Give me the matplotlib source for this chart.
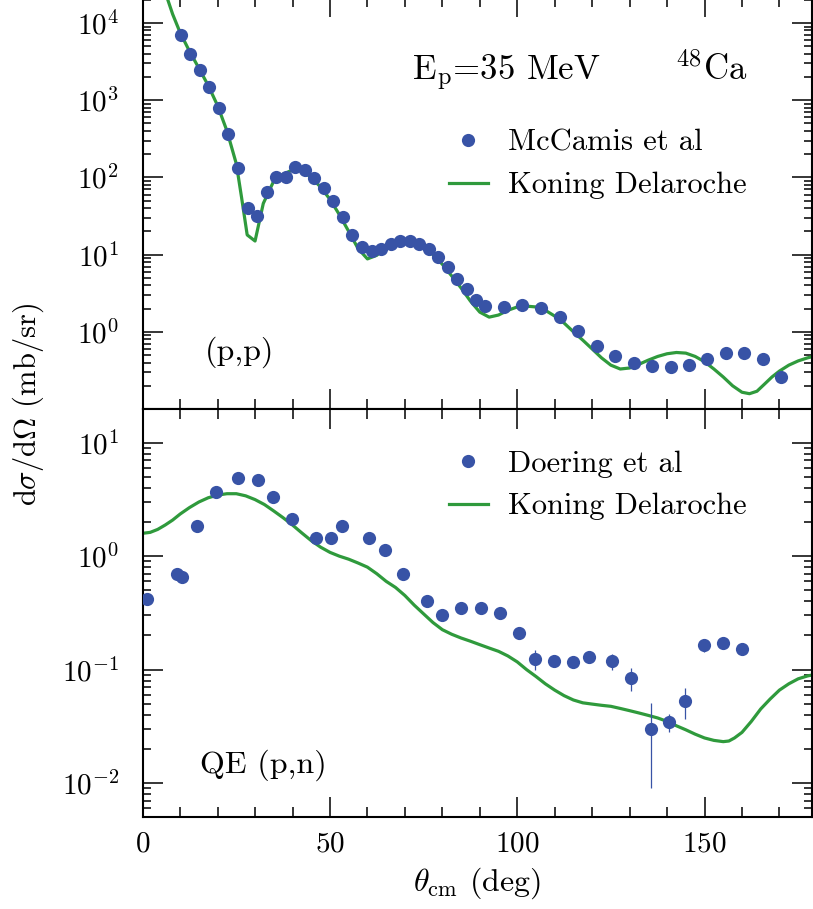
import numpy as np
import matplotlib
matplotlib.use("Agg")
import matplotlib.pyplot as plt
from matplotlib.ticker import FixedLocator, LogLocator, MultipleLocator, FuncFormatter, NullFormatter

plt.rcParams['font.family'] = 'serif'
plt.rcParams['font.serif'] = ['cmr10', 'DejaVu Serif']
plt.rcParams['mathtext.fontset'] = 'cm'
plt.rcParams['axes.formatter.use_mathtext'] = True

BLUE = '#3853a6'
GREEN = '#2f9a3c'

# elastic (p,p), McCamis et al
pp_angle = [10.2, 12.7, 15.3, 17.8, 20.4, 22.9, 25.4, 28.0, 30.6, 33.1, 35.7, 38.2,
            40.7, 43.3, 45.8, 48.4, 50.9, 53.5, 56.0, 58.5, 61.1, 63.6, 66.2, 68.7,
            71.3, 73.8, 76.4, 78.9, 81.4, 83.9, 86.5, 89.0, 91.5, 96.4, 101.4, 106.4,
            111.4, 116.3, 121.2, 126.2, 131.2, 136.0, 141.0, 145.9, 150.7, 155.7,
            160.6, 165.5, 170.3]
pp_xs = [6900, 4000, 2480, 1480, 804, 366, 134, 40, 31.6, 64, 100, 102,
         138, 125, 98, 72, 50, 30.5, 18, 12.7, 11, 11.8, 13.8, 15,
         15, 13.8, 11.8, 9.2, 7.0, 4.9, 3.55, 2.58, 2.15, 2.07, 2.2, 2.03,
         1.54, 1.04, 0.66, 0.49, 0.40, 0.362, 0.35, 0.37, 0.44, 0.525,
         0.53, 0.44, 0.26]

# Koning Delaroche, elastic
kd_pp_angle = [6.7, 8, 10, 12.5, 15, 17.5, 20, 22.5, 25, 26.4, 27.9, 30.0, 32.2,
               35, 37.5, 40, 42.5, 45, 47.5, 50, 52.5, 55, 57.5, 60, 62.5, 65,
               67.5, 70, 72.5, 75, 77.5, 80, 82.5, 85, 87.5, 90, 92.5, 95, 97.5,
               100, 102.5, 105, 107.5, 110, 112.5, 115, 117.5, 120, 122.5, 125,
               127.5, 130, 132.5, 135, 137.5, 140, 142.5, 145, 147.5, 150, 152.5,
               155, 157.5, 160, 162, 164, 166, 168, 170, 172.5, 175, 177.5, 179]
kd_pp_xs = [20000, 13000, 7500, 4300, 2600, 1550, 850, 400, 150, 55, 18, 15, 46,
            90, 110, 125, 122, 100, 75, 52, 33, 20, 12, 8.8, 9.8, 12.5,
            14.5, 15.2, 14.5, 12.5, 10, 7.5, 5.3, 3.7, 2.5, 1.8, 1.55, 1.65, 1.9,
            2.1, 2.15, 2.1, 1.9, 1.6, 1.3, 1.0, 0.78, 0.6, 0.46, 0.37,
            0.33, 0.34, 0.38, 0.43, 0.48, 0.52, 0.54, 0.53, 0.48, 0.41, 0.33,
            0.26, 0.2, 0.165, 0.158, 0.17, 0.21, 0.26, 0.31, 0.37, 0.42, 0.46, 0.48]

# quasi-elastic (p,n), Doering et al
pn_angle = [1.1, 9.1, 10.4, 14.4, 19.5, 25.5, 30.7, 34.9, 39.9, 46.2, 50.3, 53.3,
            60.4, 64.7, 69.6, 75.8, 80.0, 85.1, 90.3, 95.4, 100.5, 104.7, 109.8,
            114.9, 119.1, 125.2, 130.3, 135.6, 140.5, 144.7, 149.8, 155.0, 160.0]
pn_xs = [0.42, 0.70, 0.66, 1.85, 3.7, 4.9, 4.7, 3.3, 2.14, 1.45, 1.45, 1.85,
         1.45, 1.13, 0.70, 0.40, 0.30, 0.347, 0.347, 0.314, 0.212, 0.124, 0.118,
         0.116, 0.128, 0.118, 0.084, 0.030, 0.0345, 0.053, 0.164, 0.173, 0.151]
pn_err = [0.02, 0.03, 0.03, 0.08, 0.15, 0.2, 0.2, 0.15, 0.1, 0.07, 0.07, 0.08,
          0.07, 0.05, 0.03, 0.02, 0.015, 0.015, 0.015, 0.015, 0.012, 0.025, 0.01,
          0.01, 0.01, 0.019, 0.019, 0.021, 0.006, 0.016, 0.02, 0.01, 0.01]

# Koning Delaroche, (p,n)
kd_pn_angle = [0, 2, 4, 6, 8, 10, 12.5, 15, 17.5, 20, 22.5, 25, 27.5, 30, 32.5, 35,
               37.5, 40, 42.5, 45, 47.5, 50, 52.5, 55, 57.5, 60, 62.5, 65, 67.5,
               70, 72.5, 75, 77.5, 80, 82.5, 85, 87.5, 90, 92.5, 95, 97.5, 100,
               102.5, 105, 107.5, 110, 112.5, 115, 117.5, 120, 122.5, 125, 127.5,
               130, 132.5, 135, 137.5, 140, 142.5, 145, 147.5, 150, 152.5, 155,
               156.5, 158, 160, 162.5, 165, 167.5, 170, 172.5, 175, 177.5, 179]
kd_pn_xs = [1.59, 1.62, 1.72, 1.88, 2.08, 2.35, 2.68, 3.0, 3.27, 3.45, 3.55, 3.55,
            3.4, 3.15, 2.85, 2.5, 2.18, 1.88, 1.6, 1.37, 1.2, 1.08, 1.0, 0.94,
            0.87, 0.8, 0.7, 0.6, 0.53, 0.45, 0.37, 0.31, 0.26, 0.225, 0.205,
            0.19, 0.178, 0.166, 0.155, 0.145, 0.132, 0.117, 0.1, 0.087, 0.075,
            0.066, 0.059, 0.054, 0.051, 0.0497, 0.0485, 0.0475, 0.0455, 0.0435,
            0.0415, 0.0395, 0.0375, 0.035, 0.032, 0.0295, 0.027, 0.025, 0.0238,
            0.0232, 0.0235, 0.025, 0.028, 0.035, 0.045, 0.055, 0.066, 0.075,
            0.083, 0.088, 0.09]

FS = 21
LFS = 22

fig = plt.figure(figsize=(8.13, 9.09), dpi=100)
ax1 = fig.add_axes([0.1755, 0.5506, 0.8233, 0.4532])
ax2 = fig.add_axes([0.1755, 0.1009, 0.8233, 0.4497])


def powfmt(v, pos):
    return r'$10^{%d}$' % int(round(np.log10(v)))


def style(ax, ylo, yhi):
    ax.set_yscale('log')
    ax.set_xlim(0, 178.7)
    ax.set_ylim(ylo, yhi)
    ax.xaxis.set_major_locator(FixedLocator([0, 50, 100, 150]))
    ax.xaxis.set_minor_locator(MultipleLocator(10))
    ax.yaxis.set_major_locator(LogLocator(base=10, numticks=20))
    ax.yaxis.set_minor_locator(LogLocator(base=10, subs=np.arange(2, 10), numticks=20))
    ax.yaxis.set_major_formatter(FuncFormatter(powfmt))
    ax.yaxis.set_minor_formatter(NullFormatter())
    ax.tick_params(which='both', direction='in', top=True, right=True, width=1.1,
                   labelsize=FS)
    ax.tick_params(which='major', length=14.5)
    ax.tick_params(axis='x', which='minor', length=7)
    ax.tick_params(axis='y', which='minor', length=5.5)
    ax.tick_params(axis='y', which='major', pad=17)
    ax.tick_params(axis='x', which='major', pad=10)
    for s in ax.spines.values():
        s.set_linewidth(1.5)


# top panel: elastic
style(ax1, 0.1016, 2.2e4)
ax1.tick_params(labelbottom=False)
h1, = ax1.plot(pp_angle, pp_xs, 'o', color=BLUE, ms=9.5, mec='none', zorder=3,
               label='McCamis et al')
h2, = ax1.plot(kd_pp_angle, kd_pp_xs, '-', color=GREEN, lw=2.3, zorder=2,
               label='Koning Delaroche')
ax1.legend(handles=[h1, h2], loc='upper left', bbox_to_anchor=(0.457, 0.678),
           frameon=False, fontsize=LFS, borderpad=0, borderaxespad=0,
           handlelength=1.3, handletextpad=0.65, labelspacing=0.5)
ax1.text(0.402, 0.797, r'E$_\mathrm{p}$=35 MeV', transform=ax1.transAxes,
         fontsize=25, va='baseline', ha='left')
ax1.text(0.795, 0.797, r'$^{48}$Ca', transform=ax1.transAxes,
         fontsize=25, va='baseline', ha='left')
ax1.text(0.093, 0.137, '(p,p)', transform=ax1.transAxes, fontsize=23,
         va='center', ha='left')

# bottom panel: quasi-elastic (p,n)
style(ax2, 0.005, 20)
ax2.errorbar(pn_angle, pn_xs, yerr=pn_err, fmt='none', ecolor=BLUE, elinewidth=0.9,
             capsize=0, zorder=3)
h3, = ax2.plot(pn_angle, pn_xs, 'o', color=BLUE, ms=9.5, mec='none', zorder=4,
               label='Doering et al')
h4, = ax2.plot(kd_pn_angle, kd_pn_xs, '-', color=GREEN, lw=2.3, zorder=2,
               label='Koning Delaroche')
ax2.legend(handles=[h3, h4], loc='upper left', bbox_to_anchor=(0.457, 0.898),
           frameon=False, fontsize=LFS, borderpad=0, borderaxespad=0,
           handlelength=1.3, handletextpad=0.65, labelspacing=0.5)
ax2.text(0.0856, 0.128, 'QE (p,n)', transform=ax2.transAxes, fontsize=23,
         va='center', ha='left')
ax2.set_xlabel(r'$\theta_{\rm cm}$ (deg)', fontsize=23, labelpad=6)

fig.text(28 / 813, 1 - 404 / 909, r'd$\sigma$/d$\Omega$ (mb/sr)', rotation=90,
         fontsize=22, ha='center', va='center')

fig.savefig('out.png', dpi=100)
